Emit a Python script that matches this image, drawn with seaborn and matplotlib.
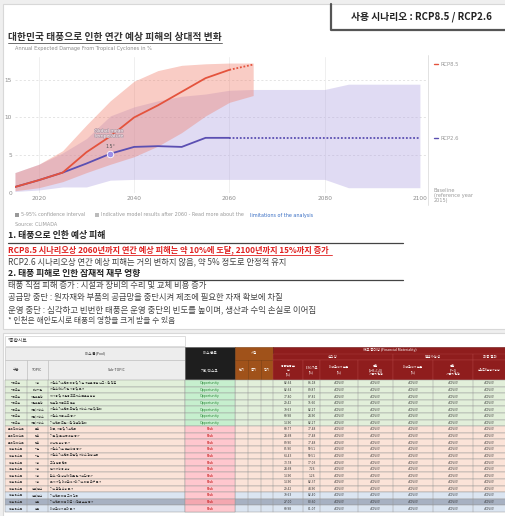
import numpy as np
import pandas as pd
import matplotlib
matplotlib.use("Agg")
import matplotlib.pyplot as plt
import matplotlib.patheffects as pe
import seaborn as sns
from matplotlib.patches import Rectangle

# ---------------- data ----------------
line_years = [2015, 2020, 2025, 2030, 2035, 2040, 2045, 2050, 2055, 2060]
rcp85_mean = [0.8, 1.7, 2.7, 5.4, 7.5, 10.0, 11.6, 13.4, 15.2, 16.3]
rcp26_mean = [0.8, 1.7, 2.7, 3.9, 5.2, 6.1, 6.2, 6.1, 7.3, 7.3]
rcp85_ext_years = [2060, 2065]
rcp85_ext = [16.3, 17.0]
rcp26_ext_years = [2060, 2100]
rcp26_ext = [7.3, 7.3]

band85_years = [2015, 2020, 2025, 2030, 2035, 2040, 2045, 2050, 2055, 2060, 2065]
rcp85_upper = [2.7, 3.8, 5.6, 9.0, 12.2, 14.8, 16.2, 16.9, 17.1, 17.2, 17.2]
rcp85_lower = [0.3, 0.7, 1.5, 2.7, 3.8, 4.8, 6.2, 8.0, 10.2, 12.0, 12.9]
band26_years = [2015, 2020, 2025, 2030, 2035, 2040, 2045, 2050, 2055, 2060,
                2065, 2070, 2075, 2080, 2085, 2090, 2095, 2100]
rcp26_upper = [2.7, 3.8, 5.3, 7.2, 10.2, 11.4, 12.2, 12.8, 13.1, 13.6,
               13.7, 13.7, 13.7, 13.7, 14.4, 14.4, 14.4, 14.4]
rcp26_lower = [0.2, 0.4, 0.8, 0.8, 1.7, 1.8, 1.8, 1.8, 1.8, 1.8,
               1.8, 1.8, 1.8, 1.8, 0.7, 0.7, 0.7, 0.7]
marker_year = [2035]
marker_value = [5.2]
y_ticks = [0, 5, 10, 15]
x_ticks = [2020, 2040, 2060, 2080, 2100]

row_kind = ["O"] * 7 + ["R"] * 10 + ["B", "D", "B"]
row_group = ["기회요인"] * 7 + ["물리적 리스크"] * 3 + ["전환 리스크"] * 10
row_topic = ["시장", "에너지원", "자원효율성", "자원효율성", "제품/서비스", "제품/서비스", "제품/서비스",
             "급성", "만성", "만성", "기술", "기술", "시장", "시장", "시장", "시장", "정책/법규",
             "정책/법규", "평판", "평판"]
row_sub = ["저탄소 기후변화 대응 및 기술 개발을 통한 신규 시장 진출",
           "저탄소 에너지원 사용 및 투자",
           "재사용 및 재활용 프로세스 효율성 향상",
           "친환경 제품으로 전환",
           "저탄소 기후변화 모델 및 서비스 개발 및 확대",
           "저탄소 제품 수요 증가",
           "기후변화 모델 시장 경쟁력 확대",
           "태풍, 가뭄 및 기후변화",
           "기온 및 물 부족 위험 증가",
           "해수면 상승 증가",
           "저탄소 기술 전환 비용 증가",
           "저탄소 기후변화 모델 및 서비스 경쟁 심화",
           "고객 행동 변화",
           "원자재 비용 상승",
           "탄소가격 상승에 따른 원가 부담 증가",
           "투자자 및 이해관계자의 기후 대응 요구 증가",
           "기후 관련 소송 증가",
           "기후변화 대응 규제 강화",
           "기후변화 대응 미흡 시 평판 손상 증가",
           "이해관계자 우려 증가"]
row_v1 = [82.64, 82.64, 77.80, 29.42, 79.63, 69.98, 14.90, 69.77, 24.68, 89.90,
          85.90, 64.43, 73.78, 24.68, 14.90, 14.90, 29.42, 79.63, 27.00, 69.98]
row_v2 = [86.18, 89.87, 87.82, 15.60, 82.27, 24.90, 82.27, 77.48, 77.48, 77.48,
          59.51, 59.51, 17.03, 7.26, 1.26, 82.37, 44.90, 82.40, 80.60, 81.07]

# ---------------- figure ----------------
sns.set_theme(style="white")
plt.rcParams["font.family"] = ["Noto Sans CJK KR", "DejaVu Sans"]
W, H = 506, 516
fig = plt.figure(figsize=(W / 100, H / 100), dpi=100, facecolor="#efefef")

lay = fig.add_axes([0, 0, 1, 1], zorder=0)
lay.set_xlim(0, W)
lay.set_ylim(H, 0)
lay.axis("off")


def T(x, y, s, size=5.2, color="#333333", ha="left", weight="normal", **kw):
    lay.text(x, y, s, fontsize=size, color=color, ha=ha, va="center",
             fontweight=weight, **kw)


def R(x0, y0, x1, y1, fc, ec="none", lw=0.4, z=1):
    lay.add_patch(Rectangle((x0, y0), x1 - x0, y1 - y0, facecolor=fc,
                            edgecolor=ec, linewidth=lw, zorder=z))


# panels
R(3, 4, 510, 329, "white", ec="#d8d8d8", lw=0.8)
R(3, 333, 510, 520, "white", ec="#d8d8d8", lw=0.8)

# top-right scenario box
lay.plot([331, 331, 510], [4, 30, 30], color="#555555", lw=1.6, zorder=3)
T(421, 17, "사용 시나리오 : RCP8.5 / RCP2.6", size=7.0, weight="bold",
  ha="center", color="#222222")

# title
T(8, 37, "대한민국 태풍으로 인한 연간 예상 피해의 상대적 변화", size=7.0,
  weight="bold", color="#333333")
lay.plot([8, 222], [43, 43], color="#555555", lw=0.6)
T(15, 48.5, "Annual Expected Damage From Tropical Cyclones in %", size=3.6,
  color="#8a8a8a", family="DejaVu Sans")

# ---------------- chart (seaborn) ----------------
x0, x1 = 15, 428
y_top, y_bot = 57, 193
ax = fig.add_axes([x0 / W, 1 - y_bot / H, (x1 - x0) / W, (y_bot - y_top) / H],
                  zorder=2)
ax.set_facecolor("none")
ax.set_xlim(2015, 2101.7)
ax.set_ylim(0, 18)

for yv in y_ticks[1:]:
    ax.axhline(yv, color="#d9d9d9", lw=0.5, ls=(0, (3, 3)), zorder=0)
for xv in x_ticks[:-1]:
    ax.axvline(xv, color="#ececec", lw=0.6, zorder=0)
ax.axhline(0, color="#bbbbbb", lw=0.6, ls=(0, (1, 2)), zorder=0)

ax.fill_between(band26_years, rcp26_lower, rcp26_upper, color="#b2a5e2",
                alpha=0.40, lw=0, zorder=1)
ax.fill_between(band85_years, rcp85_lower, rcp85_upper, color="#f0806e",
                alpha=0.40, lw=0, zorder=1)

df = pd.DataFrame({
    "year": line_years * 2,
    "value": rcp26_mean + rcp85_mean,
    "scenario": ["RCP2.6"] * len(line_years) + ["RCP8.5"] * len(line_years),
})
pal = {"RCP2.6": "#5b4fb2", "RCP8.5": "#e4533d"}
sns.lineplot(data=df, x="year", y="value", hue="scenario",
             hue_order=["RCP2.6", "RCP8.5"], palette=pal, lw=1.3,
             legend=False, ax=ax, zorder=3)
df_ext = pd.DataFrame({
    "year": rcp26_ext_years + rcp85_ext_years,
    "value": rcp26_ext + rcp85_ext,
    "scenario": ["RCP2.6"] * 2 + ["RCP8.5"] * 2,
})
sns.lineplot(data=df_ext, x="year", y="value", hue="scenario",
             hue_order=["RCP2.6", "RCP8.5"], palette=pal, lw=1.3,
             linestyle=(0, (1, 1)), legend=False, ax=ax, zorder=3)
sns.scatterplot(x=marker_year, y=marker_value, color="#9d8fe8", s=22,
                edgecolor="white", linewidth=0.6, ax=ax, zorder=4)
ax.text(marker_year[0] - 0.3, marker_value[0] + 2.7, "Global mean\ntemperature",
        fontsize=3.3, color="#fafafa", ha="center", va="center",
        family="DejaVu Sans", linespacing=1.0, zorder=5,
        path_effects=[pe.withStroke(linewidth=0.8, foreground="#b89aa6")])
ax.text(marker_year[0], marker_value[0] + 1.0, "1.5°", fontsize=3.4,
        color="#555555", ha="center", va="center", family="DejaVu Sans",
        zorder=5)

ax.set_xticks(x_ticks)
ax.set_yticks(y_ticks)
ax.set_xlabel("")
ax.set_ylabel("")
ax.tick_params(axis="both", length=0, labelsize=4.2, labelcolor="#8c8c8c", pad=2)
for lab in ax.get_xticklabels() + ax.get_yticklabels():
    lab.set_family("DejaVu Sans")
sns.despine(ax=ax, left=True, bottom=True)

# right-side legend / separator
lay.plot([428, 428], [55, 205], color="#dddddd", lw=0.6)
lay.plot([434, 438], [64, 64], color="#e4533d", lw=1.0)
T(441, 64, "RCP8.5", size=3.8, color="#9a9a9a", family="DejaVu Sans")
lay.plot([434, 438], [138, 138], color="#5b4fb2", lw=1.0)
T(441, 138, "RCP2.6", size=3.8, color="#9a9a9a", family="DejaVu Sans")
T(434, 195.5, "Baseline\n(reference year\n2015)", size=3.6, color="#9a9a9a",
  family="DejaVu Sans", linespacing=1.0)

# chart legend / source
R(15, 213, 19, 217, "#999999", z=2)
T(21, 215, "5-95% confidence interval", size=3.5, color="#9a9a9a",
  family="DejaVu Sans")
R(95, 213, 99, 217, "#bbbbbb", z=2)
T(101, 215, "Indicative model results after 2060 - Read more about the",
  size=3.5, color="#9a9a9a", family="DejaVu Sans")
T(250, 215, "limitations of the analysis", size=3.5, color="#3a6fc4",
  family="DejaVu Sans")
T(15, 224, "Source: CLIMADA", size=3.5, color="#9a9a9a", family="DejaVu Sans")

# ---------------- text section ----------------
T(8, 235.5, "1. 태풍으로 인한 예상 피해", size=6.4, weight="bold", color="#222222")
lay.plot([8, 403], [243, 243], color="#444444", lw=0.9)
T(8, 250, "RCP8.5 시나리오상 2060년까지 연간 예상 피해는 약 10%에 도달, 2100년까지 15%까지 증가",
  size=5.9, weight="bold", color="#e02020")
lay.plot([8, 332], [254.8, 254.8], color="#e02020", lw=0.6)
T(8, 262.3, "RCP2.6 시나리오상 연간 예상 피해는 거의 변하지 않음, 약 5% 정도로 안정적 유지",
  size=6.0, color="#444444")
T(8, 273.3, "2. 태풍 피해로 인한 잠재적 재무 영향", size=6.3, weight="bold",
  color="#222222")
lay.plot([8, 403], [280, 280], color="#444444", lw=0.9)
T(8, 285.5, "태풍 직접 피해 증가 : 시설과 장비의 수리 및 교체 비용 증가", size=6.0,
  color="#444444")
T(8, 297.5, "공급망 중단 : 원자재와 부품의 공급망을 중단시켜 제조에 필요한 자재 확보에 차질",
  size=6.0, color="#444444")
T(8, 310, "운영 중단 : 심각하고 빈번한 태풍은 운영 중단의 빈도를 높이며, 생산과 수익 손실로 이어짐",
  size=6.1, color="#444444")
T(8, 321, "* 인천은 해안도시로 태풍의 영향을 크게 받을 수 있음", size=5.6,
  color="#444444")

# ---------------- table ----------------
R(5, 336, 185, 346, "white", ec="#cfcfcf", lw=0.5)
T(8, 341, "*종합시트", size=3.4, color="#333333")

cx = [5, 27, 48, 185, 235, 248, 261, 273, 303, 320, 358, 393, 433, 473, 510]
hA, hB, hC, hD = 347, 353.5, 360, 380
HS = 2.5
GR, BK, BR, DR = "#ededed", "#1e1e1e", "#a0521a", "#8f1d1d"
R(5, hA, 185, hC, GR, ec="#bdbdbd")
T(95, (hA + hC) / 2, "이슈 풀(Pool)", size=HS, ha="center", color="#333333")
for i, lab in enumerate(["구분", "TOPIC", "Sub-TOPIC"]):
    R(cx[i], hC, cx[i + 1], hD, GR, ec="#bdbdbd")
    T((cx[i] + cx[i + 1]) / 2, (hC + hD) / 2, lab, size=HS, ha="center",
      color="#333333")
R(185, hA, 235, hD, BK, ec="#555555")
T(210, (hA + hC) / 2, "이슈 분류", size=HS, ha="center", color="white")
T(210, (hC + hD) / 2, "기회/리스크", size=HS, ha="center", color="white")
R(235, hA, 273, hC, BR, ec="#7a3a0a")
T(254, (hA + hC) / 2, "시점", size=HS, ha="center", color="white")
for i, lab in enumerate(["단기", "중기", "장기"]):
    R(cx[4 + i], hC, cx[5 + i], hD, BR, ec="#7a3a0a")
    T((cx[4 + i] + cx[5 + i]) / 2, (hC + hD) / 2, lab, size=HS, ha="center",
      color="white")
R(273, hA, 510, hD, DR, ec="#6a1010")
T(390, (hA + hB) / 2, "재무 중대성 (Financial Materiality)", size=HS,
  ha="center", color="white")
for a, b, lab in [(273, 393, "심각성"), (393, 473, "발생가능성"), (473, 510, "최종 결과")]:
    R(a, hB, b, hC, DR, ec="#b04040", lw=0.3)
    T((a + min(b, 506)) / 2, (hB + hC) / 2, lab, size=HS, ha="center", color="white")
sub_heads = ["동종업종 분\n석\n(%)", "ESG 지표\n(%)", "이해관계자 설문\n(%)",
             "종합\n(A=B+C+D)\n가중치 반영", "이해관계자 설문\n(%)",
             "종합\n(P=1)\n가중치 반영", "심각도X발생가능성"]
for i, lab in enumerate(sub_heads):
    a, b = cx[7 + i], cx[8 + i]
    R(a, hC, b, hD, DR, ec="#b04040", lw=0.3)
    T((a + min(b, 506)) / 2, (hC + hD) / 2, lab, size=2.1, ha="center",
      color="white", linespacing=1.0)

rh = 6.6
bg = {"O": "#e2efda", "R": "#fbe3d8", "B": "#dbe5f1", "D": "#a7b1c2"}
for r in range(len(row_kind)):
    y0 = hD + r * rh
    yc = y0 + rh / 2
    k = row_kind[r]
    R(5, y0, 510, y0 + rh, bg[k], ec="#9a9a9a", lw=0.35)
    for xv in cx[1:-1]:
        lay.plot([xv, xv], [y0, y0 + rh], color="#9a9a9a", lw=0.35, zorder=2)
    if k == "O":
        R(185, y0, 235, y0 + rh, "#c6efce", ec="#9a9a9a", lw=0.35, z=2)
        T(210, yc, "Opportunity", size=2.4, ha="center", color="#2e8b3a",
          family="DejaVu Sans", zorder=3)
    else:
        fc = "#f4a7b0" if k == "D" else "#ffc7ce"
        R(185, y0, 235, y0 + rh, fc, ec="#9a9a9a", lw=0.35, z=2)
        T(210, yc, "Risk", size=2.4, ha="center", color="#c00000",
          family="DejaVu Sans", zorder=3)
    T(16, yc, row_group[r], size=2.0, ha="center", color="#333333")
    T(37.5, yc, row_topic[r], size=2.0, ha="center", color="#333333")
    T(50, yc, row_sub[r], size=2.1, color="#333333")
    T(288, yc, f"{row_v1[r]:.2f}", size=2.1, ha="center", color="#333333",
      family="DejaVu Sans")
    T(311.5, yc, f"{row_v2[r]:.2f}", size=2.1, ha="center", color="#333333",
      family="DejaVu Sans")
    for i in range(9, 14):
        T((cx[i] + min(cx[i + 1], 506)) / 2, yc, "#DIV/0!", size=2.1,
          ha="center", color="#333333", family="DejaVu Sans")

fig.savefig("out.png", dpi=100, facecolor=fig.get_facecolor())
